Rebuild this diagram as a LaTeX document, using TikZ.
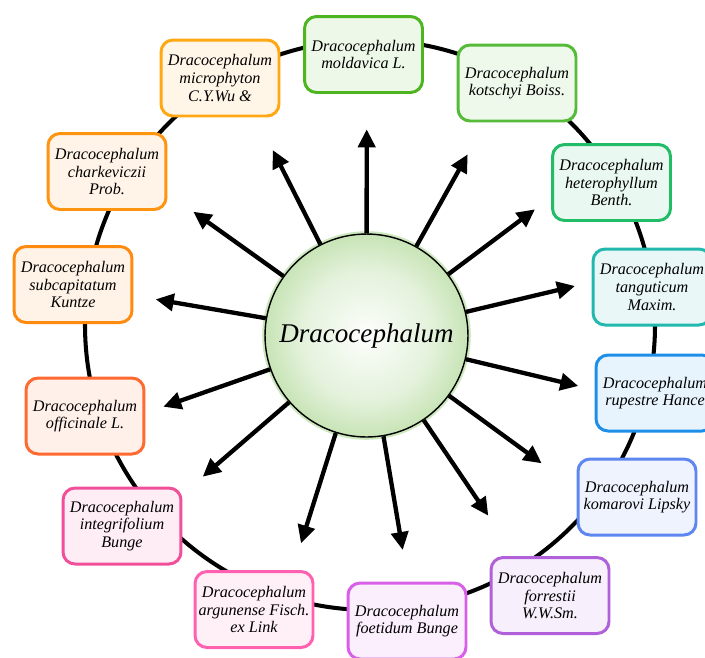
\documentclass[tikz,border=0pt]{standalone}
\usepackage{fontspec}
\setmainfont{Liberation Serif}
\usepackage{xcolor}
\usepackage{tikz}
\usetikzlibrary{arrows.meta}

\definecolor{moldgreen}{HTML}{4CB520}
\definecolor{kotsgreen}{HTML}{55BB38}
\definecolor{hetegreen}{HTML}{22BB66}
\definecolor{tangteal}{HTML}{22B8B0}
\definecolor{rupeblue}{HTML}{1E8FE8}
\definecolor{komablue}{HTML}{5E86F0}
\definecolor{forrviolet}{HTML}{B060D8}
\definecolor{foetviolet}{HTML}{D860E8}
\definecolor{argupink}{HTML}{FF60B0}
\definecolor{integpink}{HTML}{F0509A}
\definecolor{officorange}{HTML}{FF6A30}
\definecolor{subcorange}{HTML}{FF8A10}
\definecolor{charkorange}{HTML}{FF9410}
\definecolor{microorange}{HTML}{FFA814}
\definecolor{coremid}{HTML}{E4F2DC}
\definecolor{coreouter}{HTML}{C8E4B6}
\definecolor{coreglow}{HTML}{CDE8BE}
\pgfdeclareradialshading{coreshade}{\pgfpointorigin}{color(0bp)=(white);
  color(5bp)=(white!60!coremid); color(16bp)=(coremid); color(25bp)=(coreouter);
  color(50bp)=(coreouter)}

\begin{document}
\begin{tikzpicture}[x=0.02cm,y=-0.02cm,
    species/.style={draw=#1, fill=#1!10, line width=1.7pt, rounded corners=0.24cm,
      minimum width=2.36cm, minimum height=1.52cm, inner sep=1pt, align=center,
      font=\fontsize{9.2}{10.1}\selectfont\itshape},
    spoke/.style={line width=2.45pt, -{Triangle[length=0.36cm,width=0.34cm]}},
    ring/.style={line width=2.3pt}]
  \useasboundingbox (0,0) rectangle (705,657);
  \draw [ring] (370,325) circle [radius=285];
  \foreach \x/\y/\c/\t [count=\i] in {
      363.5/54.5/moldgreen/{Dracocephalum\\moldavica L.},
      517/83/kotsgreen/{Dracocephalum\\kotschyi Boiss.},
      611.5/182.5/hetegreen/{Dracocephalum\\heterophyllum\\Benth.},
      652/287/tangteal/{Dracocephalum\\tanguticum\\Maxim.},
      655/393/rupeblue/{Dracocephalum\\rupestre Hance},
      637/497/komablue/{Dracocephalum\\komarovi Lipsky},
      550/595.5/forrviolet/{Dracocephalum\\forrestii\\W.W.Sm.},
      407/621/foetviolet/{Dracocephalum\\foetidum Bunge},
      254/609.5/argupink/{Dracocephalum\\argunense Fisch.\\ex Link},
      122/526/integpink/{Dracocephalum\\integrifolium\\Bunge},
      85/416/officorange/{Dracocephalum\\officinale L.},
      73/284.5/subcorange/{Dracocephalum\\subcapitatum\\Kuntze},
      107/171.5/charkorange/{Dracocephalum\\charkeviczii\\Prob.},
      220/78/microorange/{Dracocephalum\\microphyton\\C.Y.Wu \&}}
    \node [species=\c] (sp\i) at (\x,\y) {\t};
  \node [circle, draw=black, line width=0.8pt, minimum size=4.06cm, inner sep=0pt,
    shading=coreshade, preaction={draw=coreglow, line width=3.2pt},
    font=\fontsize{15.4}{18}\selectfont\itshape] (core) at (366.5,335.5) {Dracocephalum};
  \foreach \x/\y [count=\i] in {366.7/129.3, 467.7/154.3, 535/209.3, 575/286,
      578.3/386, 541.7/463.3, 488.3/515.7, 402.7/550, 301/543.3, 202.7/476.7,
      163.3/406.7, 155.7/299.3, 193.3/211.7, 272.7/150} {
    \coordinate (tip\i) at (\x,\y);
    \draw [spoke] (core) -- (tip\i);
  }
\end{tikzpicture}
\end{document}
